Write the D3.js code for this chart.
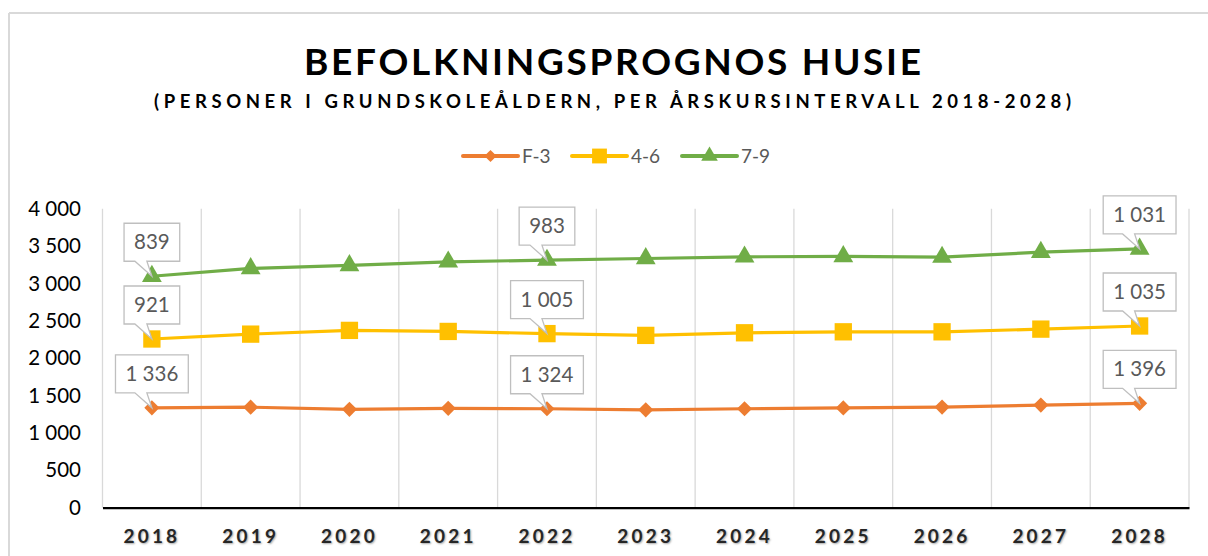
<!DOCTYPE html>
<html>
<head>
<meta charset="utf-8">
<script src="https://cdn.jsdelivr.net/npm/d3@7/dist/d3.min.js"></script>
<style>
  html, body { margin: 0; padding: 0; background: #fff; }
  svg { display: block; }
  text { font-family: Lato, "Open Sans", sans-serif; }
  .xlab { text-shadow: 1px 1px 2px rgba(0,0,0,0.35); }
</style>
</head>
<body>
<svg id="chart" width="1208" height="556"></svg>
<script>
// ---- data ----
const years = ["2018","2019","2020","2021","2022","2023","2024","2025","2026","2027","2028"];
const seriesNames = ["F-3", "4-6", "7-9"];
const f3  = [1336, 1345, 1316, 1329, 1324, 1309, 1324, 1335, 1346, 1373, 1396];
const g46 = [921, 977, 1056, 1029, 1005, 996, 1016, 1018, 1007, 1016, 1035];
const g79 = [839, 879, 869, 931, 983, 1029, 1016, 1008, 999, 1029, 1031];
const labelYears = ["2018", "2022", "2028"];
const yTicks = [0, 500, 1000, 1500, 2000, 2500, 3000, 3500, 4000];
const titleText = "BEFOLKNINGSPROGNOS HUSIE";
const subtitleText = "(PERSONER I GRUNDSKOLEÅLDERN, PER ÅRSKURSINTERVALL 2018-2028)";

const colors = ["#ED7D31", "#FFC000", "#70AD47"];
const markerTypes = [d3.symbolSquare, d3.symbolSquare, d3.symbolTriangle];
const markerRot = [45, 0, 0];

const rows = years.map((y, i) => ({ year: y, "F-3": f3[i], "4-6": g46[i], "7-9": g79[i] }));
const stacked = d3.stack().keys(seriesNames)(rows);

const fmt = d3.formatLocale({ decimal: ",", thousands: " ", grouping: [3], currency: ["", ""] }).format(",");

const svg = d3.select("#chart");

// chart border (top and left visible)
svg.append("line").attr("x1", 9).attr("x2", 1208).attr("y1", 13).attr("y2", 13)
  .attr("stroke", "#d9d9d9").attr("stroke-width", 2);
svg.append("line").attr("x1", 9).attr("x2", 9).attr("y1", 13).attr("y2", 556)
  .attr("stroke", "#d9d9d9").attr("stroke-width", 2);

// titles
svg.append("text").attr("x", 612.5).attr("y", 75)
  .attr("text-anchor", "middle").attr("font-size", 37).attr("font-weight", 700)
  .attr("fill", "#000").attr("textLength", 617).attr("lengthAdjust", "spacing")
  .text(titleText);
svg.append("text").attr("x", 612.5).attr("y", 108)
  .attr("text-anchor", "middle").attr("font-size", 18.5).attr("font-weight", 700)
  .attr("fill", "#000").attr("textLength", 917).attr("lengthAdjust", "spacing")
  .text(subtitleText);

// scales
const x = d3.scaleBand().domain(years).range([102.5, 1189]).paddingInner(0).paddingOuter(0);
const y = d3.scaleLinear().domain([0, 4000]).range([507.7, 208.7]);

// vertical gridlines at band boundaries
const bounds = years.map(d => x(d)).concat([x.range()[1]]);
svg.append("g").selectAll("line").data(bounds).join("line")
  .attr("x1", d => d).attr("x2", d => d)
  .attr("y1", y(4000)).attr("y2", y(0))
  .attr("stroke", "#d9d9d9").attr("stroke-width", 1.3);

// y axis labels
const yAxis = d3.axisLeft(y).tickValues(yTicks).tickFormat(fmt).tickSize(0).tickPadding(0);
const yg = svg.append("g").attr("transform", "translate(81,0)").call(yAxis);
yg.select(".domain").remove();
yg.selectAll("text").attr("font-size", 20.5).attr("fill", "#000")
  .attr("font-family", "Lato, 'Open Sans', sans-serif");

// x axis
const xAxis = d3.axisBottom(x).tickSize(0).tickPadding(0);
const xg = svg.append("g").attr("transform", `translate(0,${y(0)})`).call(xAxis);
xg.select(".domain").attr("stroke", "#000").attr("stroke-width", 2.2);
xg.selectAll("text").attr("class", "xlab").attr("dy", 0).attr("y", 35)
  .attr("font-size", 19).attr("font-weight", 700).attr("fill", "#262626")
  .attr("letter-spacing", 3.2)
  .attr("font-family", "Lato, 'Open Sans', sans-serif");

const cx = d => x(d) + x.bandwidth() / 2;

// lines
const line = d3.line().x(d => cx(d.data.year)).y(d => y(d[1]));
stacked.forEach((s, i) => {
  svg.append("path").datum(s).attr("d", line)
    .attr("fill", "none").attr("stroke", colors[i]).attr("stroke-width", 3.2)
    .attr("stroke-linejoin", "round");
});

// markers
const markerSizes = [115, 300, 170];
stacked.forEach((s, i) => {
  svg.append("g").selectAll("path").data(s).join("path")
    .attr("transform", d => `translate(${cx(d.data.year)},${y(d[1])}) rotate(${markerRot[i]})`)
    .attr("d", d3.symbol().type(markerTypes[i]).size(markerSizes[i]))
    .attr("fill", colors[i]);
});

// callout data labels
const lblG = svg.append("g");
stacked.forEach((s, i) => {
  s.filter(d => labelYears.includes(d.data.year)).forEach(d => {
    const px = cx(d.data.year), py = y(d[1]);
    const val = d.data[seriesNames[i]];
    const g = lblG.append("g");
    const path = g.append("path");
    const t = g.append("text").attr("x", px).attr("text-anchor", "middle")
      .attr("font-size", 20.5).attr("fill", "#595959").text(fmt(val));
    const tw = t.node().getComputedTextLength();
    const w = tw + 20, h = 38;
    const bottom = py - 15, top = bottom - h;
    const left = px - w / 2, right = px + w / 2;
    t.attr("y", top + h / 2 + 7);
    path.attr("d", `M${left},${top}H${right}V${bottom}H${px - 5}L${px},${py}L${px - 17},${bottom}H${left}Z`)
      .attr("fill", "#fff").attr("stroke", "#bfbfbf").attr("stroke-width", 1.3);
  });
});

// legend
const legX = [463, 572, 682];
const legG = svg.append("g");
seriesNames.forEach((name, i) => {
  const lx = legX[i], ly = 156;
  legG.append("line").attr("x1", lx).attr("x2", lx + 55).attr("y1", ly).attr("y2", ly)
    .attr("stroke", colors[i]).attr("stroke-width", 4).attr("stroke-linecap", "round");
  legG.append("path").attr("transform", `translate(${lx + 27.5},${ly}) rotate(${markerRot[i]})`)
    .attr("d", d3.symbol().type(markerTypes[i]).size([75, 220, 120][i]))
    .attr("fill", colors[i]);
  legG.append("text").attr("x", lx + 59).attr("y", ly + 7)
    .attr("font-size", 19).attr("fill", "#595959").text(name);
});
</script>
</body>
</html>
